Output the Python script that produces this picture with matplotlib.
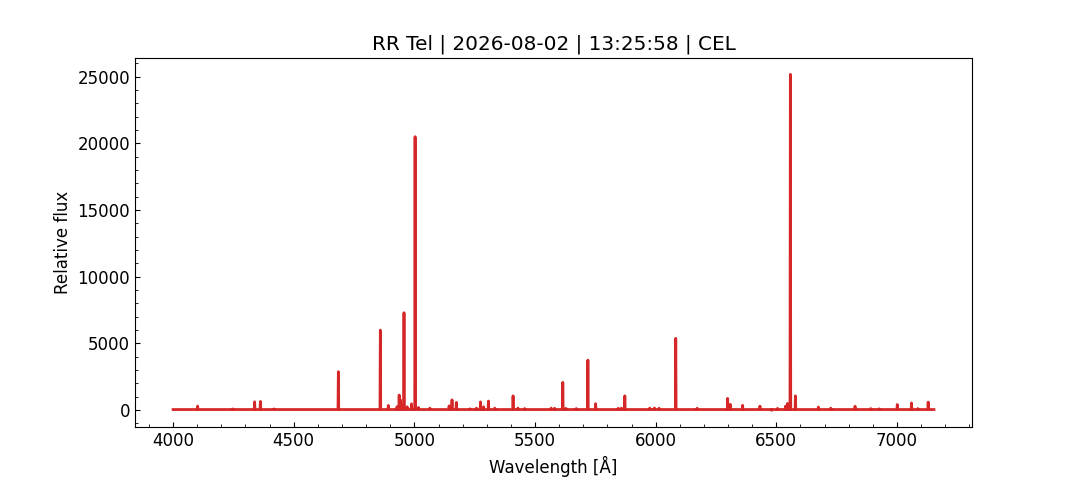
import numpy as np
import matplotlib.pyplot as plt
from matplotlib.ticker import AutoMinorLocator

# spectral range and continuum level
wave_start = 4000
wave_end = 7153
continuum = 45

# emission lines: centre [A], peak flux
line_wave = [
    4102, 4248, 4338, 4362, 4418, 4685, 4859, 4892, 4928, 4937, 4943, 4957,
    4970, 4988, 5003, 5017, 5064, 5144, 5156, 5174, 5230, 5257, 5274, 5287,
    5307, 5333, 5409, 5429, 5457, 5567, 5581, 5615, 5628, 5671, 5719, 5751,
    5845, 5858, 5872, 5975, 5995, 6014, 6083, 6172, 6298, 6309, 6360, 6432,
    6480, 6505, 6538, 6546, 6558, 6579, 6674, 6725, 6826, 6891, 6925, 7001,
    7060, 7086, 7129,
]
line_peak = [
    300, 90, 620, 650, 90, 2880, 6000, 350, 250, 1130, 750, 7300,
    250, 470, 20500, 200, 150, 320, 770, 580, 100, 150, 620, 250,
    680, 150, 1070, 150, 120, 150, 140, 2080, 130, 120, 3750, 480,
    140, 150, 1070, 150, 160, 140, 5380, 140, 880, 430, 360, 300,
    -20, 130, 300, 500, 25170, 1070, 230, 150, 290, 120, 100, 420,
    540, 120, 600,
]

# assemble the trace: flat continuum with a narrow spike at each line
wl = [wave_start]
flux = [continuum]
for c, p in zip(line_wave, line_peak):
    wl += [c - 1.5, c, c + 1.5]
    flux += [continuum, p, continuum]
wl.append(wave_end)
flux.append(continuum)

plt.rcParams['font.size'] = 12
fig, ax = plt.subplots(figsize=(10.8, 4.8), dpi=100)
ax.plot(wl, flux, color='#d62728', linewidth=2)

ax.set_title('RR Tel | 2026-08-02 | 13:25:58 | CEL')
ax.set_xlabel('Wavelength [Å]')
ax.set_ylabel('Relative flux')
ax.xaxis.set_minor_locator(AutoMinorLocator(5))
ax.yaxis.set_minor_locator(AutoMinorLocator(5))
ax.tick_params(which='both', direction='in', top=False, right=False)

fig.savefig('out.png', dpi=100)
